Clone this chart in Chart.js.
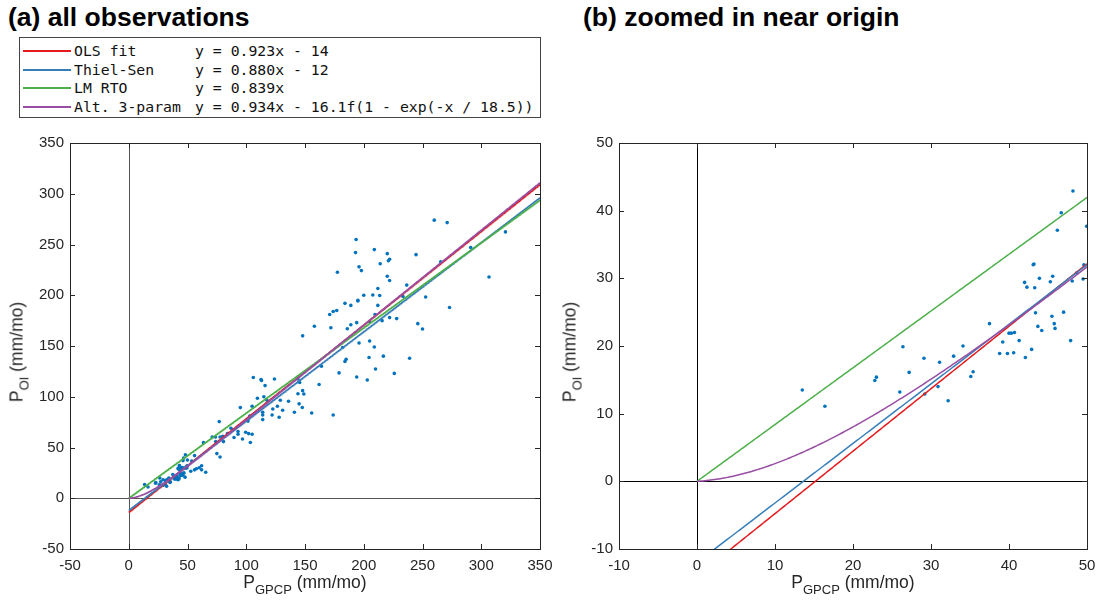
<!DOCTYPE html>
<html>
<head>
<meta charset="utf-8">
<script src="https://cdn.jsdelivr.net/npm/chart.js@4.4.1/dist/chart.umd.min.js"></script>
<style>
  body { margin: 0; background: #fff; width: 1096px; height: 600px; overflow: hidden; position: relative; font-family: "Liberation Sans", Arial, sans-serif; color: #262626; }
  canvas { position: absolute; top: 0; }
  #chartA { left: 0; }
  #chartB { left: 548px; }
  .title { position: absolute; top: 2px; font-size: 26.5px; font-weight: bold; color: #000; white-space: nowrap; }
  .axtitle { position: absolute; font-size: 17.5px; white-space: nowrap; color: #262626; transform: translate(-50%, -50%); }
  .axtitle.rot { transform: translate(-50%, -50%) rotate(-90deg); }
  .axtitle sub { font-size: 13px; vertical-align: -6px; }
  #legend { position: absolute; left: 19px; top: 37px; width: 520px; height: 79px; border: 1px solid #444; background: #fff; font-family: "DejaVu Sans Mono", monospace; font-size: 14.8px; color: #111; }
  .row { position: absolute; left: 0; height: 18px; line-height: 18px; white-space: pre; }
  .row .swatch { position: absolute; left: 3px; top: 8px; width: 48px; height: 2px; }
  .row .name { position: absolute; left: 54px; }
  .row .eq { position: absolute; left: 175px; }
</style>
</head>
<body>
<div class="title" style="left:8px">(a) all observations</div>
<div class="title" style="left:583px">(b) zoomed in near origin</div>
<canvas id="chartA" width="580" height="600"></canvas>
<canvas id="chartB" width="548" height="600"></canvas>
<div id="legend"></div>
<div class="axtitle rot" style="left:19px; top:352px">P<sub>OI</sub> (mm/mo)</div>
<div class="axtitle" style="left:305px; top:584px">P<sub>GPCP</sub> (mm/mo)</div>
<div class="axtitle rot" style="left:572px; top:352px">P<sub>OI</sub> (mm/mo)</div>
<div class="axtitle" style="left:853px; top:584px">P<sub>GPCP</sub> (mm/mo)</div>
<script>
// observations (mm/mo)
const obsX = [
  13.5, 16.4, 22.8, 23.0, 26.0, 26.4, 27.2, 29.1, 29.2, 30.9, 31.1, 32.2, 32.9, 34.1, 35.1, 35.4, 37.5,
  38.8, 39.2, 39.8, 40.0, 40.3, 40.6, 40.7, 41.3, 42.0, 42.1, 42.3, 42.9, 43.1, 43.2, 43.3, 43.4, 43.7,
  43.9, 44.2, 45.3, 45.5, 45.6, 45.8, 45.9, 46.2, 46.7, 47.0, 47.9, 48.1, 48.2, 48.7, 49.5, 49.6, 49.96,
  52.8, 53.6, 56, 56, 57.6, 60, 62, 62, 65.5, 63.6, 75, 77.7, 71, 73.8, 77.7, 80, 74, 80.6, 84, 87,
  89.6, 93, 93, 96.8, 99.5, 102, 105, 103.5, 77, 101.5, 103, 95, 105, 114, 114, 114, 109.5, 115, 116,
  113, 122.6, 126.5, 128, 131, 136, 141, 144, 145,
  184, 189, 195, 177, 174, 171, 158, 172, 189, 194, 186, 148, 196, 182, 185, 184, 179, 194, 164, 162,
  144, 145.5, 148, 149, 106, 112.6, 124, 117.6, 129, 147.7, 155.7, 122, 174,
  193.5, 193, 209, 220, 244.5, 222, 221, 214, 196, 198, 177.6, 220, 222, 236.6, 212, 200, 207.7, 213.6,
  233.4, 195, 212, 209.6, 222, 228, 215.6, 246, 205, 205, 209, 204.5, 216.7, 239, 210, 226, 203,
  260, 271, 320.6, 291, 265.5, 306.6, 252.7, 273, 250
];
const obsY = [
  13.5, 11.1, 14.9, 15.4, 13.2, 19.9, 16.1, 18.2, 12.9, 14.0, 17.6, 11.9, 18.5, 20.0, 15.5, 16.2, 23.3,
  18.9, 20.6, 18.9, 21.9, 21.9, 19.0, 22.0, 20.8, 29.4, 18.3, 28.7, 19.5, 32.0, 32.1, 28.6, 24.9, 22.9,
  30.0, 22.3, 29.5, 24.4, 30.3, 23.3, 22.6, 37.1, 39.7, 25.0, 20.8, 29.6, 42.9, 30.8, 29.9, 32.0, 37.7,
  26.6, 36.7, 42, 28, 29, 30, 32, 28, 25.6, 54.8, 44, 40.7, 60.4, 60.4, 60.4, 61, 55.8, 55.8, 63.7, 69,
  59.8, 65.7, 63, 58.4, 65, 63.7, 63, 55, 75.5, 76, 81, 89.3, 90.6, 84.7, 82, 77.5, 98.5, 100, 111,
  116, 88, 90.6, 79.8, 86.7, 95.6, 84.7, 103, 93,
  192, 190, 195, 185, 184, 181, 169.5, 168, 171, 173, 167, 160, 153, 148.5, 137, 134.7, 123.5, 119.5, 130, 112,
  117.5, 114, 106, 102.7, 119, 117, 117.5, 96.5, 96.5, 89.4, 84, 82, 82,
  255, 242, 245, 241, 240, 235.5, 234, 231, 228, 224.3, 222.7, 218.7, 214.5, 210, 206.6, 200, 200.3, 199.7,
  198.7, 194.4, 190, 181, 178, 177, 175, 172, 174, 155, 149, 138.6, 140, 138, 127.4, 123, 116.5,
  274, 271.6, 262.4, 247, 233, 218, 198.3, 188, 166.8
];

// fits, as given in the legend
const fitNames = ["OLS fit", "Thiel-Sen", "LM RTO", "Alt. 3-param"];
const fitEquations = ["y = 0.923x - 14", "y = 0.880x - 12", "y = 0.839x", "y = 0.934x - 16.1f(1 - exp(-x / 18.5))"];
const fitSlopes = [0.923, 0.880, 0.839, 0.934];
const fitIntercepts = [-14, -12, 0, 0];
const altAmplitude = 16.1;
const altScale = 18.5;
const fitColors = ["#e41a1c", "#377eb8", "#4daf4a", "#984ea3"];

// axis ticks
const ticksA = [-50, 0, 50, 100, 150, 200, 250, 300, 350];
const ticksB = [-10, 0, 10, 20, 30, 40, 50];

Chart.defaults.font.family = "'Liberation Sans', Arial, sans-serif";
Chart.defaults.font.size = 15;
Chart.defaults.color = "#262626";

function fitValue(i, x) {
    let y = fitSlopes[i] * x + fitIntercepts[i];
    if (i === 3) y -= altAmplitude * (1 - Math.exp(-x / altScale));
    return y;
}

function fitPoints(i, xMax) {
    let pts = [];
    for (let x = 0; x <= xMax; x += 0.25) pts.push({ x: x, y: fitValue(i, x) });
    return pts;
}

// box, inward ticks and zero lines in the MATLAB style
const framePlugin = {
    id: "frame",
    beforeDatasetsDraw(chart, args, opts) {
        const { ctx, chartArea: a, scales: { x, y } } = chart;
        ctx.save();
        ctx.strokeStyle = opts.zeroColor;
        ctx.lineWidth = 1;
        let x0 = Math.round(x.getPixelForValue(0)) + 0.5;
        let y0 = Math.round(y.getPixelForValue(0)) + 0.5;
        ctx.beginPath();
        ctx.moveTo(x0, a.top); ctx.lineTo(x0, a.bottom);
        ctx.moveTo(a.left, y0); ctx.lineTo(a.right, y0);
        ctx.stroke();
        ctx.restore();
    },
    afterDraw(chart, args, opts) {
        const { ctx, chartArea: a, scales: { x, y } } = chart;
        const len = 5;
        ctx.save();
        ctx.strokeStyle = "#262626";
        ctx.lineWidth = 1;
        ctx.beginPath();
        x.ticks.forEach(t => {
            let px = Math.round(x.getPixelForValue(t.value)) + 0.5;
            ctx.moveTo(px, a.bottom); ctx.lineTo(px, a.bottom - len);
            ctx.moveTo(px, a.top); ctx.lineTo(px, a.top + len);
        });
        y.ticks.forEach(t => {
            let py = Math.round(y.getPixelForValue(t.value)) + 0.5;
            ctx.moveTo(a.left, py); ctx.lineTo(a.left + len, py);
            ctx.moveTo(a.right, py); ctx.lineTo(a.right - len, py);
        });
        ctx.stroke();
        ctx.strokeRect(Math.round(a.left) + 0.5, Math.round(a.top) + 0.5,
            Math.round(a.right - a.left), Math.round(a.bottom - a.top));
        ctx.restore();
    }
};

function makeChart(canvasId, range, ticks, sizes, zeroColor) {
    let ctx = document.getElementById(canvasId).getContext("2d");
    let datasets = [];
    // first dataset is drawn on top
    for (let i = fitNames.length - 1; i >= 0; i--) {
        datasets.push({
            label: fitNames[i],
            data: fitPoints(i, ticksA[ticksA.length - 1]),
            showLine: true,
            borderColor: fitColors[i],
            borderWidth: 1.5,
            pointRadius: 0,
            clip: 0
        });
    }
    datasets.push({
        label: "observations",
        data: obsX.map((v, k) => ({ x: v, y: obsY[k] })),
        pointRadius: 1.8,
        pointBorderWidth: 0,
        pointBackgroundColor: "#0072bd",
        clip: 0
    });

    return new Chart(ctx, {
        type: "scatter",
        data: { datasets: datasets },
        options: {
            responsive: false,
            animation: false,
            layout: { padding: { top: 143, right: sizes.right, left: 0, bottom: 0 } },
            plugins: {
                legend: { display: false },
                tooltip: { enabled: false },
                frame: { zeroColor: zeroColor }
            },
            scales: {
                x: {
                    type: "linear",
                    min: range[0], max: range[1],
                    afterBuildTicks: s => { s.ticks = ticks.map(v => ({ value: v })); },
                    afterFit: s => { s.height = 51; s.paddingLeft = 0; s.paddingRight = 0; },
                    grid: { display: false, drawTicks: false },
                    border: { display: false },
                    ticks: { padding: 8, autoSkip: false, maxRotation: 0 }
                },
                y: {
                    type: "linear",
                    min: range[0], max: range[1],
                    afterBuildTicks: s => { s.ticks = ticks.map(v => ({ value: v })); },
                    afterFit: s => { s.width = sizes.left; s.paddingTop = 0; s.paddingBottom = 0; },
                    grid: { display: false, drawTicks: false },
                    border: { display: false },
                    ticks: { padding: 6, autoSkip: false }
                }
            }
        },
        plugins: [framePlugin]
    });
}

makeChart("chartA", [-50, 350], ticksA, { left: 70, right: 40 }, "#555");
makeChart("chartB", [-10, 50], ticksB, { left: 71, right: 9 }, "#000");

// legend box
let legend = document.getElementById("legend");
fitNames.forEach((name, i) => {
    let row = document.createElement("div");
    row.className = "row";
    row.style.top = Math.round(4 + i * 18.5) + "px";
    row.style.width = "100%";
    row.innerHTML = '<span class="swatch" style="background:' + fitColors[i] + '"></span>' +
        '<span class="name">' + name + '</span><span class="eq">' + fitEquations[i] + '</span>';
    legend.appendChild(row);
});
</script>
</body>
</html>
